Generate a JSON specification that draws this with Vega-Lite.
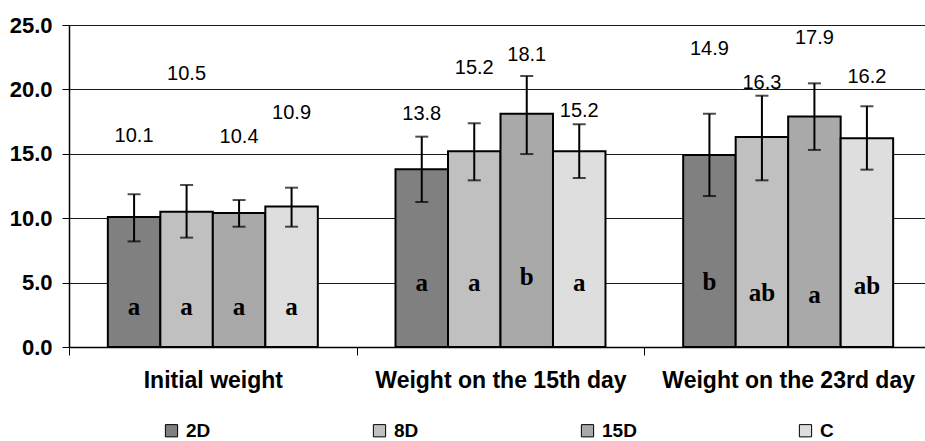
{
  "$schema": "https://vega.github.io/schema/vega-lite/v6.json",
  "width": 863,
  "height": 322,
  "autosize": {"type": "none"},
  "padding": {"left": 69, "top": 25, "right": -7, "bottom": 94},
  "background": "white",
  "config": {
    "view": {"stroke": null},
    "font": "Liberation Sans"
  },
  "data": {
    "values": [
      {"group": "Initial weight", "series": "2D", "mean": 10.1, "lo": 8.2, "hi": 11.86, "labelY": 16.4, "letter": "a", "letterY": 3.1},
      {"group": "Initial weight", "series": "8D", "mean": 10.5, "lo": 8.49, "hi": 12.58, "labelY": 21.2, "letter": "a", "letterY": 3.1},
      {"group": "Initial weight", "series": "15D", "mean": 10.4, "lo": 9.34, "hi": 11.41, "labelY": 16.3, "letter": "a", "letterY": 3.1},
      {"group": "Initial weight", "series": "C", "mean": 10.9, "lo": 9.34, "hi": 12.37, "labelY": 18.2, "letter": "a", "letterY": 3.1},
      {"group": "Weight on the 15th day", "series": "2D", "mean": 13.8, "lo": 11.26, "hi": 16.33, "labelY": 18.1, "letter": "a", "letterY": 5.0},
      {"group": "Weight on the 15th day", "series": "8D", "mean": 15.2, "lo": 12.94, "hi": 17.37, "labelY": 21.7, "letter": "a", "letterY": 5.0},
      {"group": "Weight on the 15th day", "series": "15D", "mean": 18.1, "lo": 14.98, "hi": 21.04, "labelY": 22.7, "letter": "b", "letterY": 5.4},
      {"group": "Weight on the 15th day", "series": "C", "mean": 15.2, "lo": 13.12, "hi": 17.29, "labelY": 18.3, "letter": "a", "letterY": 5.0},
      {"group": "Weight on the 23rd day", "series": "2D", "mean": 14.9, "lo": 11.72, "hi": 18.11, "labelY": 23.1, "letter": "b", "letterY": 5.05},
      {"group": "Weight on the 23rd day", "series": "8D", "mean": 16.3, "lo": 12.94, "hi": 19.51, "labelY": 20.5, "letter": "ab", "letterY": 4.2},
      {"group": "Weight on the 23rd day", "series": "15D", "mean": 17.9, "lo": 15.3, "hi": 20.47, "labelY": 24.0, "letter": "a", "letterY": 4.0},
      {"group": "Weight on the 23rd day", "series": "C", "mean": 16.2, "lo": 13.77, "hi": 18.69, "labelY": 21.0, "letter": "ab", "letterY": 4.7}
    ]
  },
  "encoding": {
    "x": {
      "field": "group",
      "type": "nominal",
      "sort": ["Initial weight", "Weight on the 15th day", "Weight on the 23rd day"],
      "scale": {"paddingInner": 0, "paddingOuter": 0},
      "axis": {
        "title": null,
        "labelAngle": 0,
        "labelLimit": 500,
        "labelFont": "Liberation Sans",
        "labelFontSize": 23,
        "labelFontWeight": "bold",
        "labelColor": "#000000",
        "labelPadding": 14,
        "tickBand": "extent",
        "tickSize": 8,
        "tickColor": "#000000",
        "tickWidth": 1,
        "domainColor": "#000000",
        "domainWidth": 1.5,
        "grid": false
      }
    },
    "xOffset": {
      "field": "series",
      "type": "nominal",
      "sort": ["2D", "8D", "15D", "C"],
      "scale": {"paddingInner": 0, "paddingOuter": 0.74}
    }
  },
  "layer": [
    {
      "mark": {"type": "bar", "stroke": "#000000", "strokeWidth": 2},
      "encoding": {
        "y": {
          "field": "mean",
          "type": "quantitative",
          "scale": {"domain": [0, 25], "nice": false},
          "axis": {
            "title": null,
            "values": [0, 5, 10, 15, 20, 25],
            "format": ".1f",
            "labelFont": "Liberation Sans",
            "labelFontSize": 22,
            "labelFontWeight": "bold",
            "labelColor": "#000000",
            "labelPadding": 10,
            "tickSize": 7,
            "tickColor": "#000000",
            "domainColor": "#000000",
            "domainWidth": 1.5,
            "grid": true,
            "gridColor": "#1a1a1a",
            "gridWidth": 1
          }
        },
        "fill": {
          "field": "series",
          "type": "nominal",
          "scale": {"domain": ["2D", "8D", "15D", "C"], "range": ["#808080", "#c0c0c0", "#a9a9a9", "#dedede"]},
          "legend": {
            "title": null,
            "orient": "none",
            "legendX": 93,
            "legendY": 396,
            "direction": "horizontal",
            "columnPadding": 159,
            "padding": 0,
            "symbolType": "square",
            "symbolSize": 150,
            "symbolStrokeColor": "#000000",
            "symbolStrokeWidth": 1,
            "symbolOpacity": 1,
            "labelFont": "Liberation Sans",
            "labelFontSize": 19,
            "labelFontWeight": "bold",
            "labelColor": "#000000",
            "labelOffset": 5
          }
        }
      }
    },
    {
      "mark": {"type": "rule", "color": "#000000", "strokeWidth": 2},
      "encoding": {
        "y": {"field": "lo", "type": "quantitative"},
        "y2": {"field": "hi"}
      }
    },
    {
      "mark": {"type": "tick", "color": "#000000", "thickness": 2, "size": 13},
      "encoding": {
        "y": {"field": "lo", "type": "quantitative"}
      }
    },
    {
      "mark": {"type": "tick", "color": "#000000", "thickness": 2, "size": 13},
      "encoding": {
        "y": {"field": "hi", "type": "quantitative"}
      }
    },
    {
      "mark": {"type": "text", "font": "Liberation Sans", "fontSize": 20, "color": "#000000", "baseline": "middle", "align": "center"},
      "encoding": {
        "y": {"field": "labelY", "type": "quantitative"},
        "text": {"field": "mean", "type": "quantitative", "format": ".1f"}
      }
    },
    {
      "mark": {"type": "text", "font": "Liberation Serif", "fontSize": 25, "fontWeight": "bold", "color": "#000000", "baseline": "middle", "align": "center"},
      "encoding": {
        "y": {"field": "letterY", "type": "quantitative"},
        "text": {"field": "letter", "type": "nominal"}
      }
    }
  ]
}
